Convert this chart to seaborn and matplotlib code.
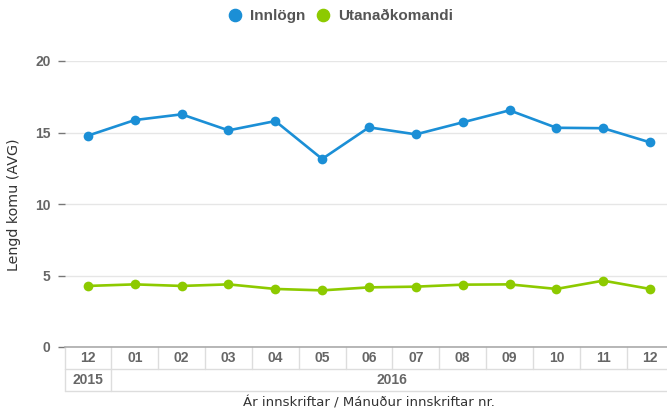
import matplotlib
matplotlib.use("Agg")
import matplotlib.pyplot as plt
import seaborn as sns
import pandas as pd
from matplotlib.lines import Line2D

periods = ["2015-12", "2016-01", "2016-02", "2016-03", "2016-04", "2016-05", "2016-06",
           "2016-07", "2016-08", "2016-09", "2016-10", "2016-11", "2016-12"]
month_labels = ["12", "01", "02", "03", "04", "05", "06", "07", "08", "09", "10", "11", "12"]
year_labels = ["2015", "2016"]
innlogn = [14.78, 15.87, 16.27, 15.15, 15.80, 13.15, 15.36, 14.87, 15.71, 16.55, 15.33, 15.30, 14.31]
utanad = [4.27, 4.38, 4.27, 4.38, 4.06, 3.96, 4.17, 4.22, 4.36, 4.38, 4.06, 4.64, 4.06]
series_names = ["Innlögn", "Utanaðkomandi"]
colors = ["#1b8fd6", "#8dca00"]

df = pd.concat([
    pd.DataFrame({"period": periods, "value": innlogn, "series": series_names[0]}),
    pd.DataFrame({"period": periods, "value": utanad, "series": series_names[1]}),
])

sns.set_theme(style="white")
plt.rcParams['font.family'] = ['Liberation Sans', 'DejaVu Sans']

W, H = 667, 409
fig = plt.figure(figsize=(W / 100, H / 100), dpi=100)
ax_left, ax_right, ax_top, ax_bot = 64.5, 673.5, 61, 347
ax = fig.add_axes([ax_left / W, (H - ax_bot) / H, (ax_right - ax_left) / W, (ax_bot - ax_top) / H])

sns.lineplot(data=df, x="period", y="value", hue="series", style="series",
             markers=["o", "o"], dashes=False, palette=colors, linewidth=1.9,
             markersize=7, markeredgewidth=0, sort=False, ax=ax, legend=False)

tick_kw = dict(fontsize=10, fontweight="bold", color="#666666")
ax.set_xlim(-0.5, 12.5)
ax.set_ylim(0, 20)
ax.set_yticks([0, 5, 10, 15, 20])
ax.set_yticklabels(["0", "5", "10", "15", "20"], **tick_kw)
ax.tick_params(axis="y", length=5, width=1, color="#777777", pad=5, left=True)
ax.tick_params(axis="x", bottom=False, labelbottom=False)
ax.set_xlabel("")
ax.set_ylabel("")
ax.grid(axis="y", color="#e6e6e6", linewidth=1)
ax.set_axisbelow(True)
for s in ["top", "right", "left"]:
    ax.spines[s].set_visible(False)
ax.spines["bottom"].set_color("#aaaaaa")
ax.spines["bottom"].set_linewidth(1.2)

# category table below axis
axh = ax_bot - ax_top
r1 = -(369 - ax_bot) / axh
r2 = -(391 - ax_bot) / axh
tr = ax.get_xaxis_transform()
lc = "#dddddd"
for i in range(len(periods) + 1):
    x = i - 0.5
    ax.plot([x, x], [0, r1], transform=tr, color=lc, lw=1, clip_on=False)
ax.plot([-0.5, 12.5], [r1, r1], transform=tr, color=lc, lw=1, clip_on=False)
ax.plot([-0.5, 12.5], [r2, r2], transform=tr, color=lc, lw=1, clip_on=False)
ax.plot([-0.5, -0.5], [r1, r2], transform=tr, color=lc, lw=1, clip_on=False)
ax.plot([0.5, 0.5], [r1, r2], transform=tr, color=lc, lw=1, clip_on=False)
for i, m in enumerate(month_labels):
    ax.text(i, r1 / 2, m, transform=tr, ha="center", va="center", **tick_kw)
ax.text(0, (r1 + r2) / 2, year_labels[0], transform=tr, ha="center", va="center", **tick_kw)
ax.text(6.5, (r1 + r2) / 2, year_labels[1], transform=tr, ha="center", va="center", **tick_kw)

fig.text(369 / W, (H - 403) / H, "Ár innskriftar / Mánuður innskriftar nr.", ha="center",
         va="center", fontsize=9.5, color="#333333", family=["DejaVu Sans"])
fig.text(14 / W, (H - 205) / H, "Lengd komu (AVG)", rotation=90, ha="center",
         va="center", fontsize=10.3, color="#333333", family=["DejaVu Sans"])

handles = [Line2D([], [], marker="o", linestyle="none", color=c, markersize=8.8) for c in colors]
fig.legend(handles, series_names, loc="center", bbox_to_anchor=(340 / W, (H - 16) / H),
           ncol=2, frameon=False, handlelength=1.0, handletextpad=0.47, columnspacing=0.67,
           borderpad=0, prop={"size": 11, "weight": "bold"}, labelcolor="#555555")

fig.savefig("out.png", dpi=100)
